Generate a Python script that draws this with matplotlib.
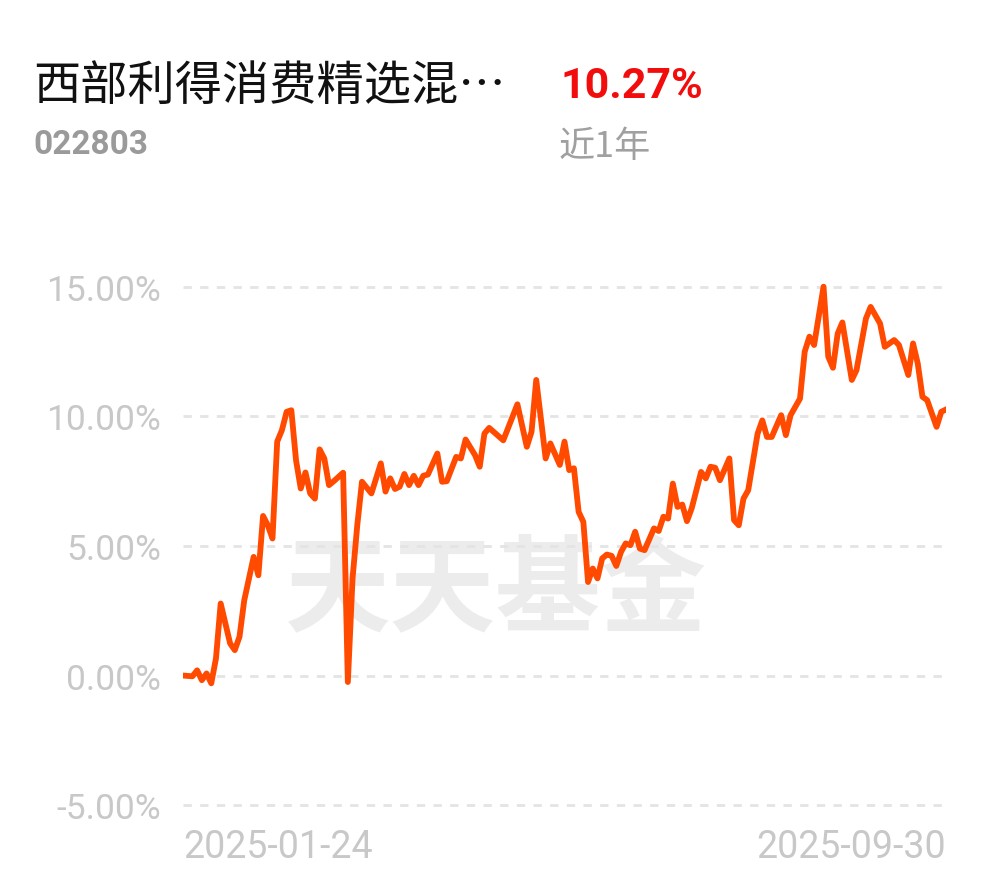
import matplotlib
matplotlib.use('Agg')
import matplotlib.pyplot as plt

# trading-day index (from 2025-01-24) and cumulative return in %
dias = [0, 2, 3, 4, 5, 6, 7, 8, 10, 11, 12, 13, 15, 16, 17, 18, 19, 20, 21, 22,
        23, 24, 25, 26, 27, 28, 29, 30, 31, 32, 34, 35, 36, 37, 38, 40, 42, 43, 44, 45,
        46, 47, 48, 49, 50, 51, 52, 54, 55, 56, 58, 59, 60, 62, 63, 64, 65, 68, 71, 73,
        74, 75, 77, 78, 80, 81, 82, 83, 84, 85, 86, 87, 88, 89, 90, 91, 92, 93, 94, 95,
        96, 97, 98, 100, 101, 102, 103, 104, 105, 106, 107, 108, 110, 111, 112, 113, 114, 116, 117, 118,
        119, 120, 122, 123, 124, 125, 127, 128, 129, 131, 132, 133, 134, 136, 137, 138, 139, 140, 142, 143,
        145, 146, 148, 149, 151, 152, 154, 155, 156, 157, 158, 160, 161, 162]
rendimiento = [0.00, -0.03, 0.20, -0.18, 0.08, -0.30, 0.66, 2.78, 1.24, 0.98, 1.50, 2.90, 4.58, 3.87, 6.16, 5.80, 5.29, 9.03, 9.47, 10.18,
               10.24, 8.31, 7.22, 7.84, 7.03, 6.83, 8.73, 8.38, 7.35, 7.50, 7.83, -0.25, 3.75, 5.80, 7.48, 7.03, 8.19, 7.10, 7.61, 7.20,
               7.29, 7.78, 7.35, 7.71, 7.35, 7.71, 7.76, 8.57, 7.48, 7.50, 8.44, 8.38, 9.11, 8.51, 8.06, 9.34, 9.56, 9.08, 10.47, 8.83,
               9.41, 11.41, 8.38, 8.96, 8.13, 9.03, 7.93, 8.00, 6.32, 5.93, 3.61, 4.13, 3.75, 4.52, 4.67, 4.62, 4.23, 4.77, 5.10, 5.03,
               5.55, 4.90, 4.84, 5.68, 5.58, 6.13, 6.06, 7.41, 6.51, 6.60, 5.96, 6.45, 7.86, 7.61, 8.06, 8.02, 7.54, 8.38, 6.00, 5.80,
               6.83, 7.15, 9.34, 9.85, 9.21, 9.21, 10.05, 9.28, 10.05, 10.69, 12.50, 13.08, 12.76, 15.01, 12.31, 11.88, 13.20, 13.63, 11.41, 11.79,
               13.78, 14.23, 13.59, 12.69, 12.95, 12.76, 11.60, 12.82, 12.05, 10.76, 10.63, 9.60, 10.18, 10.27]

marcas_y = [-5, 0, 5, 10, 15]
etiquetas_x = ['2025-01-24', '2025-09-30']
nombre = '西部利得消费精选混…'
codigo = '022803'
retorno = '10.27%'
periodo = '近1年'

cjk = ['Noto Sans CJK SC', 'DejaVu Sans']

fig = plt.figure(figsize=(9.9, 8.78), dpi=100)
ax = fig.add_axes([183 / 990, 1 - 819 / 878, (946 - 183) / 990, (819 - 275) / 878])

ax.plot(dias, rendimiento, color='#ff4a00', lw=4.2, solid_joinstyle='round', zorder=3)

ax.set_xlim(0, dias[-1])
ax.set_ylim(-5.5, 15.5)
ax.set_yticks(marcas_y)
ax.set_yticklabels([f'{v:.2f}%' for v in marcas_y], fontfamily='Roboto', fontsize=25.5, color='#c8c8c8')
ax.set_xticks([dias[0], dias[-1]])
ax.set_xticklabels(etiquetas_x, fontfamily='Roboto', fontsize=27, color='#c8c8c8')
ax.get_xticklabels()[0].set_ha('left')
ax.get_xticklabels()[1].set_ha('right')
ax.tick_params(length=0)
ax.tick_params(axis='y', pad=16)
ax.tick_params(axis='x', pad=7)
for v in marcas_y:
    ax.axhline(v, color='#e4e4e4', lw=2, linestyle=(0, (3, 3)), zorder=1)
for s in ax.spines.values():
    s.set_visible(False)

# marca de agua
ax.text(0.41, 0.415, '天天基金', transform=ax.transAxes, ha='center', va='center',
        fontsize=76, fontweight='bold', family=cjk, color='#ececec', zorder=0)

fig.text(33 / 990, 1 - 87 / 878, nombre, family=cjk, fontsize=34, color='#111111', va='center', ha='left')
fig.text(33 / 990, 1 - 145 / 878, codigo, family='Roboto', fontweight='bold', fontsize=24, color='#9a9a9a', va='center', ha='left')
fig.text(560 / 990, 1 - 86 / 878, retorno, family='Roboto', fontweight='bold', fontsize=31, color='#f20c0c', va='center', ha='left')
fig.text(559 / 990, 1 - 147 / 878, periodo, family=cjk, fontsize=26, color='#a0a0a0', va='center', ha='left')

fig.savefig('out.png', dpi=100)
